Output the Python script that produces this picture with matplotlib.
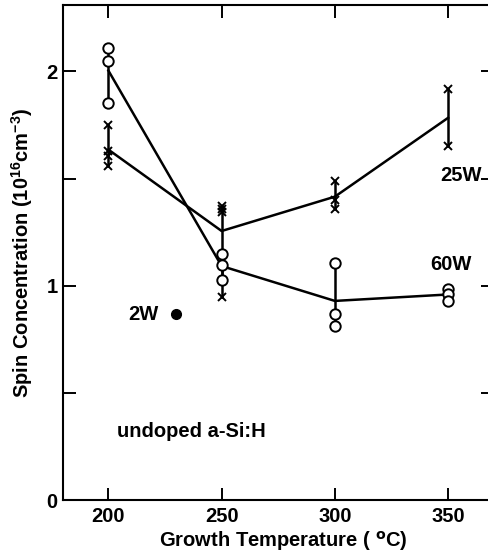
import matplotlib
matplotlib.use('Agg')
import matplotlib.pyplot as plt
import numpy as np

plt.rcParams['font.family'] = ['Liberation Sans', 'DejaVu Sans']
plt.rcParams['font.weight'] = 'bold'
plt.rcParams['mathtext.fontset'] = 'custom'
plt.rcParams['mathtext.rm'] = 'Liberation Sans:bold'
plt.rcParams['mathtext.default'] = 'rm'

# growth temperatures (C)
temps = [200, 250, 300, 350]

# individual spin concentrations, 1e16 cm^-3
w60 = [[2.11, 2.048, 1.854],
       [1.150, 1.098, 1.028],
       [1.106, 0.868, 0.814],
       [0.985, 0.963, 0.930]]
w25 = [[1.752, 1.628, 1.604, 1.557],
       [1.372, 1.358, 1.345, 0.947],
       [1.487, 1.402, 1.358],
       [1.916, 1.651]]

# single 2W sample
w2_temp = [230]
w2_val = [0.87]

xticks = [200, 250, 300, 350]
yticks = [0, 1, 2]
yminor = [0.5, 1.5]

fig = plt.figure(figsize=(4.89, 5.52), dpi=100)
ax = fig.add_axes([0.129, 0.094, 0.880, 0.897])

lw = 1.8
for vals, mk in ((w60, 'o'), (w25, 'x')):
    means = [np.mean(v) for v in vals]
    ax.plot(temps, means, color='black', lw=lw, zorder=2)
    for t, v in zip(temps, vals):
        ax.plot([t, t], [min(v), max(v)], color='black', lw=lw, zorder=2)
        if mk == 'o':
            ax.plot([t] * len(v), v, 'o', ms=7.5, mfc='white', mec='black',
                    mew=1.4, zorder=3)
        else:
            ax.plot([t] * len(v), v, 'x', ms=5.5, color='black', mew=1.4, zorder=3)

ax.plot(w2_temp, w2_val, 'o', ms=7, color='black', zorder=3)

fs = 14.5
ax.text(222, 0.865, '2W', ha='right', va='center', fontsize=fs, fontweight='bold')
ax.text(346.5, 1.514, '25W', ha='left', va='center', fontsize=fs, fontweight='bold')
ax.text(342, 1.098, '60W', ha='left', va='center', fontsize=fs, fontweight='bold')
ax.text(204, 0.318, 'undoped a-Si:H', ha='left', va='center', fontsize=fs,
        fontweight='bold')

ax.set_xlim(180, 370)
ax.set_ylim(0, 2.31)
ax.set_xticks(xticks)
ax.set_yticks(yticks)
ax.set_yticks(yminor, minor=True)
ax.tick_params(which='both', direction='in', length=9, width=1.4,
               top=True, right=True, labelsize=fs, pad=4)
ax.tick_params(axis='x', pad=5)
for s in ax.spines.values():
    s.set_linewidth(1.5)

ax.set_xlabel('Growth Temperature ( $^{\\mathbf{o}}$C)', fontsize=fs,
              fontweight='bold', labelpad=1)
ax.xaxis.set_label_coords(0.512, -0.058)
ax.set_ylabel('Spin Concentration (10$^{16}$cm$^{-3}$)', fontsize=fs,
              fontweight='bold', labelpad=8)

fig.savefig('out.png', dpi=100)
